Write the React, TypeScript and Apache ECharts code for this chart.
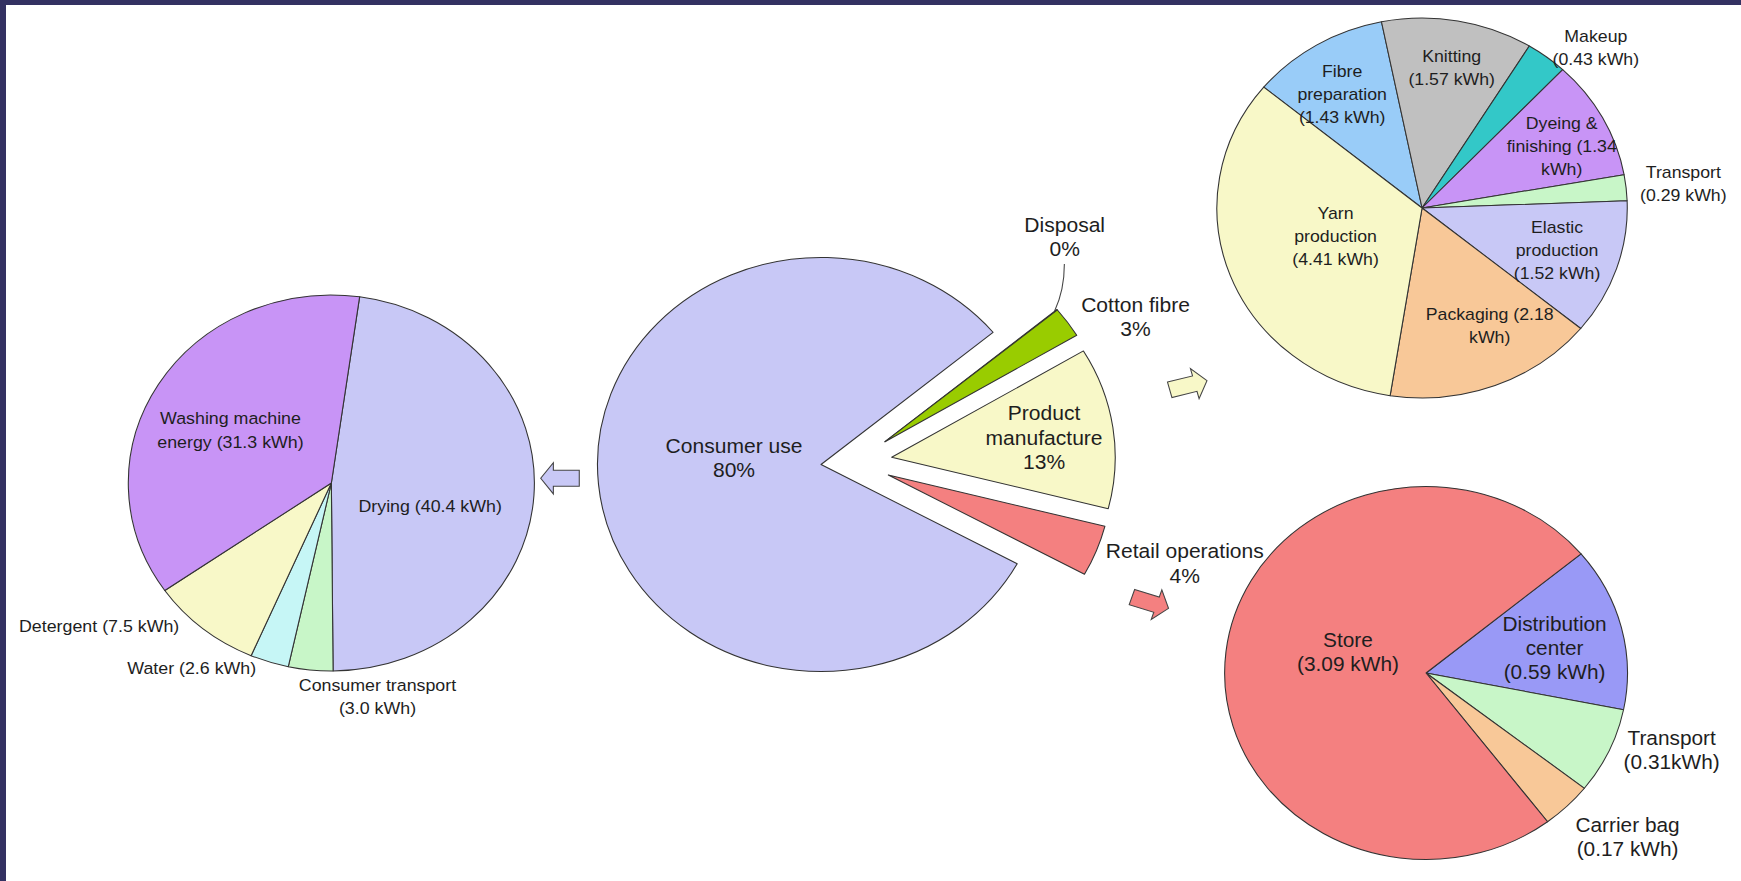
import React, { useEffect, useRef } from "react";
import * as echarts from "echarts";

// ---------- DATA ----------
// Whole life cycle (kWh); shares printed on the chart
const centerNames = ["Disposal", "Cotton fibre", "Product manufacture", "Retail operations", "Consumer use"];
const centerValues = [0.05, 2.5, 13.17, 4.16, 84.8];
const centerShares = ["0%", "3%", "13%", "4%", "80%"];
const centerLabelTemplates = ["Disposal\n{p}", "Cotton fibre\n{p}", "Product\nmanufacture\n{p}", "Retail operations\n{p}", "Consumer use\n{p}"];

// Consumer use breakdown (kWh)
const useNames = ["Drying", "Consumer transport", "Water", "Detergent", "Washing machine energy"];
const useValues = [40.4, 3.0, 2.6, 7.5, 31.3];
const useLabelTemplates = ["Drying ({v} kWh)", "Consumer transport\n({v} kWh)", "Water ({v} kWh)", "Detergent ({v} kWh)", "Washing machine\nenergy ({v} kWh)"];

// Product manufacture breakdown (kWh)
const manufNames = ["Fibre preparation", "Knitting", "Makeup", "Dyeing & finishing", "Transport", "Elastic production", "Packaging", "Yarn production"];
const manufValues = [1.43, 1.57, 0.43, 1.34, 0.29, 1.52, 2.18, 4.41];
const manufLabelTemplates = ["Fibre\npreparation\n({v} kWh)", "Knitting\n({v} kWh)", "Makeup\n({v} kWh)", "Dyeing &\nfinishing ({v}\nkWh)", "Transport\n({v} kWh)", "Elastic\nproduction\n({v} kWh)", "Packaging ({v}\nkWh)", "Yarn\nproduction\n({v} kWh)"];

// Retail operations breakdown (kWh)
const retailNames = ["Distribution center", "Transport", "Carrier bag", "Store"];
const retailValues = [0.59, 0.31, 0.17, 3.09];
const retailLabelTemplates = ["Distribution\ncenter\n({v} kWh)", "Transport\n({v}kWh)", "Carrier bag\n({v} kWh)", "Store\n({v} kWh)"];

// ---------- STYLES & LAYOUT ----------
const FONT = "'Liberation Sans', Arial, sans-serif";
const TEXT = "#1e1e1e";
const EDGE = "#333";
const centerColors = ["#9a9a9a", "#99cc00", "#f8f8c8", "#f48080", "#c8c8f6"];
const useColors = ["#c8c8f6", "#c8f6c8", "#c6f6f6", "#f8f8c8", "#c894f6"];
const manufColors = ["#99ccf8", "#c0c0c0", "#33c8c8", "#c894f6", "#c8f6c8", "#c8c8f6", "#f8c898", "#f8f8c8"];
const retailColors = ["#9999f6", "#c8f6c8", "#f8c898", "#f48080"];

const LW = 1612; // logical width, stretched horizontally to 1741
const LH = 881;
const SX = 1741 / LW;

const centerGroups = [
  { idx: [4], center: [760.2, 464.5] },
  { idx: [0, 1], center: [819.4, 441.7] },
  { idx: [2], center: [825.6, 457.3] },
  { idx: [3], center: [822.5, 475] },
];
const centerRadius = 207;
const centerStart = 39.7;
const centerLabelPos = [[985.8, 237.5], [1051.4, 317.5], [966.7, 438], [1097, 564], [679.6, 458.3]];

const usePie = { center: [306.8, 483], radius: 188, start: 82 };
const useLabelPos = [[398.3, 506.7], [349.5, 696.5], [177.5, 668.3], [91.8, 626.7], [213.4, 430]];

const manufPie = { center: [1316.7, 208], radius: 190, start: 140.5 };
const manufLabelPos = [[1242.7, 95], [1344.1, 68.7], [1477.6, 48.3], [1446, 146.7], [1558.6, 184.7], [1441.7, 251], [1379.3, 326.7], [1236.6, 236.7]];

const retailPie = { center: [1320.4, 673], radius: 186.5, start: 39.7 };
const retailLabelPos = [[1439.4, 647.8], [1547.8, 750.3], [1507, 837], [1248.1, 652]];

const arrows = [
  { x: 518.5, y: 478.3, rotation: Math.PI, fill: "#c8c8f6" },
  { x: 1100.3, y: 385.2, rotation: 0.26, fill: "#f8f8c8" },
  { x: 1065, y: 602.7, rotation: -0.32, fill: "#f48080" },
];
const arrowShape = [[-17.85, -8], [6.15, -8], [6.15, -15.6], [17.85, 0], [6.15, 15.6], [6.15, 8], [-17.85, 8]];

const pieBase = {
  type: "pie",
  silent: true,
  clockwise: true,
  label: { show: false },
  labelLine: { show: false },
  emphasis: { disabled: true },
  animation: false,
};

function textEl(text: string, x: number, y: number, size: number, lh: number) {
  return {
    type: "text",
    x,
    y,
    silent: true,
    z: 100,
    style: {
      text,
      fill: TEXT,
      fontSize: size,
      fontFamily: FONT,
      align: "center",
      verticalAlign: "middle",
      textAlign: "center",
      textVerticalAlign: "middle",
      lineHeight: lh,
    },
  };
}

function subPie(names: string[], values: number[], colors: string[], geo: any) {
  return {
    ...pieBase,
    center: geo.center,
    radius: geo.radius,
    startAngle: geo.start,
    data: names.map((n, i) => ({
      name: n,
      value: values[i],
      itemStyle: { color: colors[i], borderColor: EDGE, borderWidth: 1 },
    })),
  };
}

export default function App() {
  const ref = useRef<HTMLDivElement>(null);

  useEffect(() => {
    if (!ref.current) return;
    const chart = echarts.init(ref.current, null, { renderer: "svg", width: LW, height: LH });

    const centerSeries = centerGroups.map((g) => ({
      ...pieBase,
      center: g.center,
      radius: centerRadius,
      startAngle: centerStart,
      data: centerNames.map((n, i) => ({
        name: n,
        value: centerValues[i],
        itemStyle: g.idx.includes(i)
          ? { color: centerColors[i], borderColor: EDGE, borderWidth: 1 }
          : { color: "rgba(0,0,0,0)", borderColor: "rgba(0,0,0,0)", borderWidth: 0 },
      })),
    }));

    const texts: any[] = [];
    centerLabelTemplates.forEach((t, i) => {
      const [x, y] = centerLabelPos[i];
      texts.push(textEl(t.replace("{p}", centerShares[i]), x, y, 19.5, 24.5));
    });
    useLabelTemplates.forEach((t, i) => {
      const [x, y] = useLabelPos[i];
      texts.push(textEl(t.replace("{v}", useValues[i].toFixed(1)), x, y, 16.5, 23.5));
    });
    manufLabelTemplates.forEach((t, i) => {
      const [x, y] = manufLabelPos[i];
      texts.push(textEl(t.replace("{v}", manufValues[i].toFixed(2)), x, y, 16.4, 23));
    });
    retailLabelTemplates.forEach((t, i) => {
      const [x, y] = retailLabelPos[i];
      texts.push(textEl(t.replace("{v}", retailValues[i].toFixed(2)), x, y, 19.3, 24));
    });

    const arrowEls = arrows.map((a) => ({
      type: "polygon",
      x: a.x,
      y: a.y,
      rotation: a.rotation,
      silent: true,
      shape: { points: arrowShape },
      style: { fill: a.fill, stroke: "#444", lineWidth: 1 },
    }));

    const leader = {
      type: "bezierCurve",
      silent: true,
      shape: { x1: 976.5, y1: 311, cpx1: 985.5, cpy1: 290, x2: 985.5, y2: 264 },
      style: { stroke: "#444", lineWidth: 1, fill: "none" },
    };

    chart.setOption({
      animation: false,
      backgroundColor: "#ffffff",
      series: [
        ...centerSeries,
        subPie(useNames, useValues, useColors, usePie),
        subPie(manufNames, manufValues, manufColors, manufPie),
        subPie(retailNames, retailValues, retailColors, retailPie),
      ],
      graphic: { elements: [...arrowEls, leader, ...texts] },
    });

    return () => chart.dispose();
  }, []);

  return (
    <div style={{ position: "absolute", left: 0, top: 0, width: 1741, height: 881, overflow: "hidden", background: "#fff" }}>
      <div
        ref={ref}
        style={{ position: "absolute", left: 0, top: 0, width: LW, height: LH, transform: `scaleX(${SX})`, transformOrigin: "0 0" }}
      />
      <div style={{ position: "absolute", left: 0, top: 0, width: 1741, height: 5, background: "#333162" }} />
      <div style={{ position: "absolute", left: 0, top: 0, width: 6, height: 881, background: "#333162" }} />
    </div>
  );
}
